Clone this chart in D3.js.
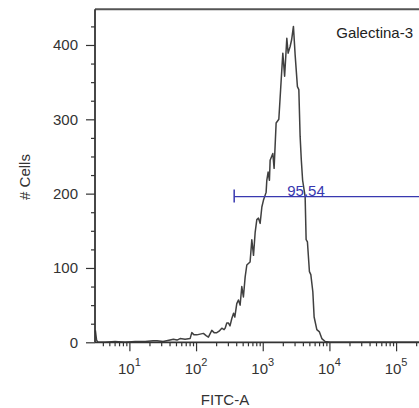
<!DOCTYPE html>
<html>
<head>
<meta charset="utf-8">
<script src="https://cdn.jsdelivr.net/npm/d3@7"></script>
<style>
  html, body { margin: 0; padding: 0; background: #fff; }
  svg { display: block; font-family: "Liberation Sans", Arial, Helvetica, sans-serif; }
</style>
</head>
<body>
<svg id="chart" width="419" height="408"></svg>
<script>
// ---- data ----
const fitc = [3.09, 3.22, 3.39, 4.32, 6.10, 8.62, 12.2, 17.2, 22.7, 26.0, 32.0, 40.8, 45.7, 51.9, 57.6, 68.5, 81.4, 86.3, 93.4, 102.6,
  115, 128.8, 141.5, 153.1, 172.2, 186.5, 204.7, 221.6, 243.2, 263.4, 273, 289, 305, 323, 343.6, 365, 381, 408, 432, 458,
  485, 513, 545, 577, 610, 646, 686, 727, 770, 815, 863, 914, 970, 1024, 1097, 1124, 1151, 1204, 1260, 1291,
  1416, 1481, 1588, 1743, 1854, 2001, 2129, 2297, 2403, 2575, 2712, 2886, 3059, 3313, 3478, 3637, 3791, 3964, 4323, 4475,
  4681, 5016, 5263, 5640, 5898, 6475, 7085, 7694, 8626, 10250, 14480, 28890, 81450, 262144];
const cells = [16, 3, 0, 0, 1, 0, 1, 1, 2, 2, 1, 3, 4, 3, 5, 4, 5, 13, 10, 10,
  11, 12, 9, 7, 16, 13, 13, 15, 19, 17, 19, 26, 26, 22, 32, 39, 34, 52, 57, 50,
  75, 61, 88, 104, 106, 108, 138, 117, 148, 165, 167, 160, 182, 191, 199, 202, 218, 229, 218, 245,
  254, 234, 295, 300, 340, 389, 358, 409, 389, 398, 407, 425, 387, 344, 340, 277, 245, 218, 196, 138,
  135, 95, 91, 68, 34, 17, 14, 5, 1, 0, 0, 0, 0, 0];

const xDomain = [3.05, 262144];
const yDomain = [0, 448];
const xMajorTicks = [10, 100, 1000, 10000, 100000];
const xTickExponents = ["1", "2", "3", "4", "5"];
const yMajorTicks = [0, 100, 200, 300, 400];
const yMinorStep = 25;

const gateStart = 373;      // FITC value where the gate begins
const gateLevel = 196;      // count level at which the gate is drawn
const gateLabel = "95.54";
const sampleLabel = "Galectina-3";
const xTitle = "FITC-A";
const yTitle = "# Cells";

// ---- layout ----
const svg = d3.select("#chart");
const pLeft = 95, pTop = 9.3, pBottom = 342.3, pRight = 424;
const x = d3.scaleLog().domain(xDomain).range([pLeft, pRight]);
const y = d3.scaleLinear().domain(yDomain).range([pBottom, pTop]);
const axisColor = "#333";
const textColor = "#333";

// top frame line
svg.append("line").attr("x1", pLeft).attr("x2", pRight).attr("y1", pTop).attr("y2", pTop)
  .attr("stroke", "#555").attr("stroke-width", 2);

// histogram line
const line = d3.line().x((d, i) => x(fitc[i])).y(d => y(d));
svg.append("path").datum(cells).attr("d", line)
  .attr("fill", "none").attr("stroke", "#404040").attr("stroke-width", 1.5).attr("stroke-linejoin", "round");

// x minor ticks
const xMinor = [];
for (let e = 0; e <= 5; e++) for (let k = 2; k <= 9; k++) {
  const v = k * Math.pow(10, e);
  if (v > xDomain[0] && v < xDomain[1]) xMinor.push(v);
}
const gxm = svg.append("g").attr("transform", `translate(0,${pBottom})`)
  .call(d3.axisBottom(x).tickValues(xMinor).tickSize(4).tickFormat(""));
const gx = svg.append("g").attr("transform", `translate(0,${pBottom})`)
  .call(d3.axisBottom(x).tickValues(xMajorTicks).tickSize(9).tickFormat(""));
[gxm, gx].forEach(g => {
  g.select(".domain").remove();
  g.selectAll(".tick line").attr("stroke", axisColor).attr("stroke-width", 1.2);
});
// x tick labels 10^n
xMajorTicks.forEach((v, i) => {
  const t = svg.append("text").attr("x", x(v)).attr("y", 374)
    .attr("text-anchor", "middle").attr("fill", textColor).attr("font-size", 15);
  t.append("tspan").text("10");
  t.append("tspan").attr("font-size", 11).attr("dy", -8).text(xTickExponents[i]);
});

// y ticks
const yMinor = d3.range(0, yDomain[1] + 1, yMinorStep).filter(v => !yMajorTicks.includes(v));
const gym = svg.append("g").attr("transform", `translate(${pLeft},0)`)
  .call(d3.axisLeft(y).tickValues(yMinor).tickSize(4).tickFormat(""));
const gy = svg.append("g").attr("transform", `translate(${pLeft},0)`)
  .call(d3.axisLeft(y).tickValues(yMajorTicks).tickSize(9).tickPadding(8));
[gym, gy].forEach(g => {
  g.select(".domain").remove();
  g.selectAll(".tick line").attr("stroke", axisColor).attr("stroke-width", 1.2);
});
gy.selectAll(".tick text").attr("font-size", 15).attr("fill", textColor)
  .attr("font-family", "'Liberation Sans', Arial, sans-serif");

// axis lines
svg.append("line").attr("x1", pLeft).attr("x2", pRight).attr("y1", pBottom).attr("y2", pBottom)
  .attr("stroke", axisColor).attr("stroke-width", 1.8);
svg.append("line").attr("x1", pLeft).attr("x2", pLeft).attr("y1", pTop).attr("y2", pBottom)
  .attr("stroke", axisColor).attr("stroke-width", 1.8);

// gate
const gateColor = "#3838b0";
svg.append("line").attr("x1", x(gateStart)).attr("x2", pRight).attr("y1", y(gateLevel)).attr("y2", y(gateLevel))
  .attr("stroke", gateColor).attr("stroke-width", 1.3);
svg.append("line").attr("x1", x(gateStart)).attr("x2", x(gateStart))
  .attr("y1", y(gateLevel) - 7).attr("y2", y(gateLevel) + 6)
  .attr("stroke", gateColor).attr("stroke-width", 1.5);
svg.append("text").attr("x", 306).attr("y", y(gateLevel) - 1).attr("text-anchor", "middle")
  .attr("fill", gateColor).attr("font-size", 15).text(gateLabel);

// labels
svg.append("text").attr("x", 413).attr("y", 37.5).attr("text-anchor", "end")
  .attr("fill", "#222").attr("font-size", 15).text(sampleLabel);
svg.append("text").attr("x", 225).attr("y", 405).attr("text-anchor", "middle")
  .attr("fill", textColor).attr("font-size", 15).text(xTitle);
svg.append("text").attr("transform", "translate(30,177) rotate(-90)").attr("text-anchor", "middle")
  .attr("fill", textColor).attr("font-size", 15).text(yTitle);
</script>
</body>
</html>
